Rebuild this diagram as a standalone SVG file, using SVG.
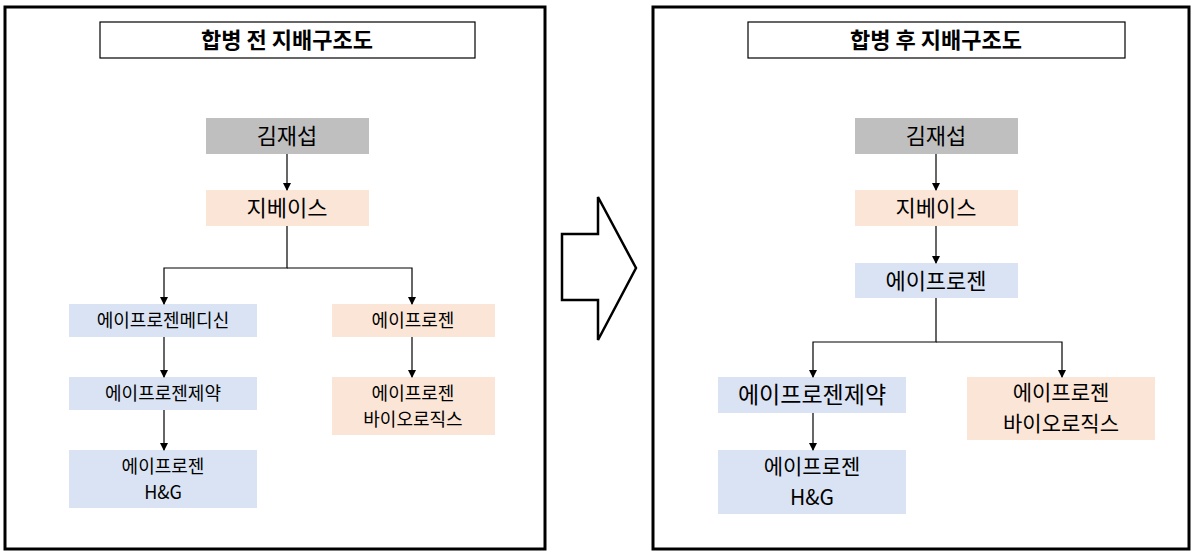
<svg xmlns="http://www.w3.org/2000/svg" width="1198" height="555" viewBox="0 0 1198 555">
<style>
.frame{fill:#fff;stroke:#000;stroke-width:3}
.title{fill:#fff;stroke:#000;stroke-width:1.2}
.tt{font-family:"Noto Sans CJK KR","Liberation Sans",sans-serif;font-weight:bold;font-size:22px;text-anchor:middle}
.t{font-family:"Noto Sans CJK KR","Liberation Sans",sans-serif;font-size:18px;text-anchor:middle;fill:#000}
.tm{font-family:"Noto Sans CJK KR","Liberation Sans",sans-serif;font-size:22px;text-anchor:middle;fill:#000}
.tb{font-family:"Noto Sans CJK KR","Liberation Sans",sans-serif;font-size:23px;text-anchor:middle;fill:#000}
.t2{font-family:"Noto Sans CJK KR","Liberation Sans",sans-serif;font-size:21px;text-anchor:middle;fill:#000}
.g{fill:#BFBFBF}.p{fill:#FBE5D6}.b{fill:#DAE3F3}
.c{fill:none;stroke:#000;stroke-width:1.2}
</style>
<defs><marker id="ah" markerWidth="8" markerHeight="8" refX="7" refY="4" orient="auto" markerUnits="userSpaceOnUse"><path d="M0,0 L8,4 L0,8 Z" fill="#000"/></marker></defs>
<rect class="frame" x="5" y="7" width="540" height="542"/>
<rect class="frame" x="653" y="7" width="536" height="542"/>
<g id="title1"><rect class="title" x="100" y="22" width="375" height="36"/><text class="tt" x="287" y="48">합병 전 지배구조도</text></g>
<g id="title2"><rect class="title" x="748" y="22" width="377" height="36"/><text class="tt" x="936" y="48">합병 후 지배구조도</text></g>
<polygon id="bigarrow" points="562,234 598,234 598,197 636,268 598,340 598,300 562,300" fill="#fff" stroke="#000" stroke-width="2.5"/>
<g id="L1"><rect class="g" x="206" y="118" width="163" height="36"/><text class="tm" x="287" y="144">김재섭</text></g>
<g id="L2"><rect class="p" x="206" y="190" width="163" height="36"/><text class="tm" x="287" y="216">지베이스</text></g>
<g id="L3"><rect class="b" x="69" y="304" width="188" height="33"/><text class="t" x="163" y="327">에이프로젠메디신</text></g>
<g id="L4"><rect class="p" x="332" y="304" width="163" height="33"/><text class="t" x="413" y="327">에이프로젠</text></g>
<g id="L5"><rect class="b" x="69" y="377" width="188" height="33"/><text class="t" x="163" y="400">에이프로젠제약</text></g>
<g id="L6"><rect class="b" x="69" y="450" width="188" height="58"/><text class="t" x="163" y="473">에이프로젠</text><text class="t" x="163" y="499">H&amp;G</text></g>
<g id="L7"><rect class="p" x="332" y="377" width="163" height="58"/><text class="t" x="413" y="400">에이프로젠</text><text class="t" x="413" y="426">바이오로직스</text></g>
<g id="R1"><rect class="g" x="855" y="118" width="163" height="36"/><text class="tm" x="936" y="144">김재섭</text></g>
<g id="R2"><rect class="p" x="855" y="190" width="163" height="36"/><text class="tm" x="936" y="216">지베이스</text></g>
<g id="R3"><rect class="b" x="855" y="263" width="163" height="35"/><text class="tm" x="936" y="289">에이프로젠</text></g>
<g id="R4"><rect class="b" x="718" y="377" width="188" height="36"/><text class="tb" x="812" y="403">에이프로젠제약</text></g>
<g id="R5"><rect class="b" x="718" y="450" width="188" height="64"/><text class="t2" x="812" y="474">에이프로젠</text><text class="t2" x="812" y="505">H&amp;G</text></g>
<g id="R6"><rect class="p" x="967" y="377" width="188" height="63"/><text class="t2" x="1061" y="400">에이프로젠</text><text class="t2" x="1061" y="431">바이오로직스</text></g>
<g id="connectors">
<path class="c" d="M287,154 V190" marker-end="url(#ah)"/>
<path class="c" d="M287,226 V268 H164 V304" marker-end="url(#ah)"/>
<path class="c" d="M287,268 H412 V304" marker-end="url(#ah)"/>
<path class="c" d="M164,337 V377" marker-end="url(#ah)"/>
<path class="c" d="M164,410 V450" marker-end="url(#ah)"/>
<path class="c" d="M412,337 V377" marker-end="url(#ah)"/>
<path class="c" d="M936,154 V190" marker-end="url(#ah)"/>
<path class="c" d="M936,226 V263" marker-end="url(#ah)"/>
<path class="c" d="M936,298 V342 H813 V377" marker-end="url(#ah)"/>
<path class="c" d="M936,342 H1062 V377" marker-end="url(#ah)"/>
<path class="c" d="M813,413 V450" marker-end="url(#ah)"/>
</g>
</svg>
